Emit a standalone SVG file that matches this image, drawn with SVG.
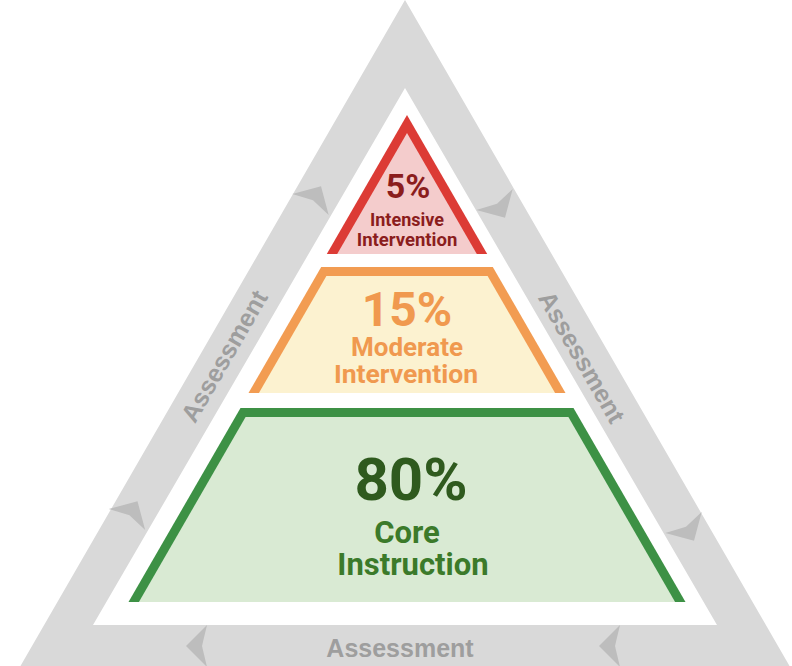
<svg xmlns="http://www.w3.org/2000/svg" width="792" height="666" viewBox="0 0 792 666">
  <style>
    .band { fill: #d9d9d9; }
    .chev { fill: #bdbdbd; }
    .assess { font-family: "Liberation Sans", Arial, sans-serif; font-weight: 700; font-size: 25px; fill: #9e9e9e; text-anchor: middle; }
    .tier { font-family: Roboto, "Liberation Sans", sans-serif; font-weight: 700; text-anchor: middle; }
    .red { fill: #8b1d1d; }
    .orange { fill: #f0994f; }
    .green-big { fill: #2f5a1e; }
    .green { fill: #3b7a2a; }
  </style>
  <defs>
    <path id="chevron" d="M10,0 L-11,-21 L-6,0 L-11,21 Z"/>
  </defs>
  <rect width="792" height="666" fill="#ffffff"/>

  <g id="assessment-cycle">
    <path class="band" fill-rule="evenodd" d="M405,0 L793,672 L17,672 Z M405,88 L93,625 L717,625 Z"/>
  </g>

  <g id="connectors">
    <use href="#chevron" class="chev" transform="translate(196,646) rotate(180)"/>
    <use href="#chevron" class="chev" transform="translate(609,646) rotate(180)"/>
    <use href="#chevron" class="chev" transform="translate(132.5,510) rotate(-60)"/>
    <use href="#chevron" class="chev" transform="translate(316,195) rotate(-60)"/>
    <use href="#chevron" class="chev" transform="translate(500,209) rotate(60)"/>
    <use href="#chevron" class="chev" transform="translate(689,532) rotate(60)"/>
  </g>

  <g id="label-left">
    <text class="assess" transform="translate(224,356) rotate(-60)" y="9">Assessment</text>
  </g>
  <g id="label-right">
    <text class="assess" transform="translate(582,357) rotate(60)" y="9">Assessment</text>
  </g>
  <g id="label-bottom">
    <text class="assess" x="400" y="657">Assessment</text>
  </g>

  <g id="tier-intensive">
    <polygon points="407,115 326.8,254 487.2,254" fill="#dc3b35"/>
    <polygon points="407,133 337.2,254 476.8,254" fill="#f4cccc"/>
    <text class="tier red" x="408" y="198" font-size="34">5%</text>
    <text class="tier red" x="407" y="226" font-size="18">Intensive</text>
    <text class="tier red" x="407" y="246" font-size="18.5">Intervention</text>
  </g>

  <g id="tier-moderate">
    <polygon points="321.2,267 492.8,267 565.5,393 248.5,393" fill="#f29c52"/>
    <polygon points="326.4,276 487.6,276 555.1,393 258.9,393" fill="#fcf2d0"/>
    <text class="tier orange" x="407" y="326" font-size="48">15%</text>
    <text class="tier orange" x="407" y="356" font-size="26">Moderate</text>
    <text class="tier orange" x="406" y="383" font-size="26.5">Intervention</text>
  </g>

  <g id="tier-core">
    <polygon points="240.5,408 573.5,408 685.5,602 128.5,602" fill="#3d9145"/>
    <polygon points="245.6,417 568.4,417 675.1,602 138.9,602" fill="#d9ead3"/>
    <text class="tier green-big" x="411" y="500" font-size="60">80%</text>
    <text class="tier green" x="407" y="543" font-size="31">Core</text>
    <text class="tier green" x="413" y="575" font-size="31">Instruction</text>
  </g>
</svg>
